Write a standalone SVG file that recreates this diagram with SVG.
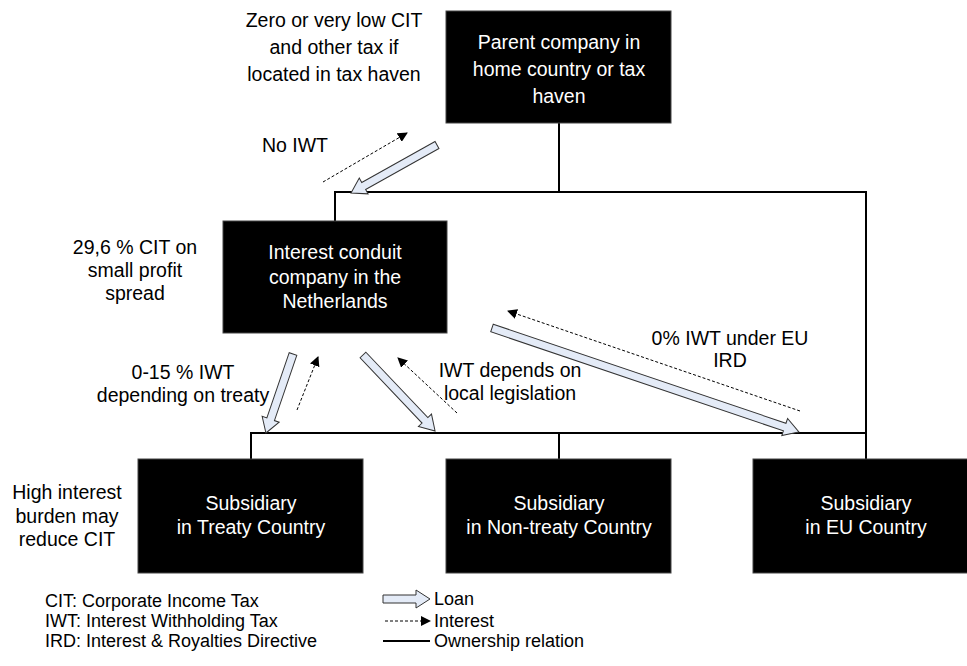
<svg xmlns="http://www.w3.org/2000/svg" width="967" height="666" viewBox="0 0 967 666">
<defs>
<style>
text{font-family:"Liberation Sans",Arial,sans-serif;font-size:19.5px;fill:#000;text-anchor:middle}
.w{fill:#fff}
.box{fill:#000;stroke:#444;stroke-width:1}
.own{fill:none;stroke:#000;stroke-width:2}
.loan{fill:#e4ebf7;stroke:#333;stroke-width:1}
.int{fill:none;stroke:#000;stroke-width:1;stroke-dasharray:3,2}
.leg{font-size:18px;text-anchor:start}
</style>
<marker id="ah" viewBox="0 0 10 10" refX="9" refY="5" markerWidth="10" markerHeight="10" markerUnits="userSpaceOnUse" orient="auto">
<path d="M0,0 L10,5 L0,10 Z" fill="#000"/>
</marker>
</defs>

<g id="connectors">
<path class="own" d="M559,123 V192 M335,221 V192 H866 V459 M251,459 V433 H866 M559,433 V459"/>
<g transform="translate(437,145) rotate(150.8)"><path class="loan" d="M0,-4 H84 V-9 L98.5,0 L84,9 V4 H0 Z"/></g>
<g transform="translate(293,354) rotate(108.9)"><path class="loan" d="M0,-4 H69 V-9 L83.5,0 L69,9 V4 H0 Z"/></g>
<g transform="translate(363,355) rotate(46.5)"><path class="loan" d="M0,-4 H90 V-9 L104.7,0 L90,9 V4 H0 Z"/></g>
<g transform="translate(492,328) rotate(18.7)"><path class="loan" d="M0,-4 H309 V-9 L324,0 L309,9 V4 H0 Z"/></g>
<path class="int" d="M323,182 L407,133" marker-end="url(#ah)"/>
<path class="int" d="M297,410 L318,357" marker-end="url(#ah)"/>
<path class="int" d="M457,413 L398,358" marker-end="url(#ah)"/>
<path class="int" d="M800,411 L508,311" marker-end="url(#ah)"/>
</g>

<g id="parent">
<rect class="box" x="446" y="11" width="225" height="112"/>
<text class="w" x="559" y="49">Parent company in</text>
<text class="w" x="559" y="76">home country or tax</text>
<text class="w" x="559" y="103">haven</text>
</g>
<g id="conduit">
<rect class="box" x="223" y="221" width="224" height="112"/>
<text class="w" x="335" y="259">Interest conduit</text>
<text class="w" x="335" y="284">company in the</text>
<text class="w" x="335" y="308">Netherlands</text>
</g>
<g id="sub-treaty">
<rect class="box" x="138" y="459" width="225" height="114"/>
<text class="w" x="251" y="510">Subsidiary</text>
<text class="w" x="251" y="534">in Treaty Country</text>
</g>
<g id="sub-nontreaty">
<rect class="box" x="446" y="459" width="225" height="114"/>
<text class="w" x="559" y="510">Subsidiary</text>
<text class="w" x="559" y="534">in Non-treaty Country</text>
</g>
<g id="sub-eu">
<rect class="box" x="753" y="459" width="225" height="114"/>
<text class="w" x="866" y="510">Subsidiary</text>
<text class="w" x="866" y="534">in EU Country</text>
</g>

<g id="labels">
<text x="334" y="27">Zero or very low CIT</text>
<text x="334" y="54">and other tax if</text>
<text x="334" y="81">located in tax haven</text>
<text x="295" y="152">No IWT</text>
<text x="135" y="254">29,6 % CIT on</text>
<text x="135" y="277">small profit</text>
<text x="135" y="300">spread</text>
<text x="183" y="379">0-15 % IWT</text>
<text x="183" y="402">depending on treaty</text>
<text x="510" y="377">IWT depends on</text>
<text x="510" y="400">local legislation</text>
<text x="730" y="345">0% IWT under EU</text>
<text x="730" y="367">IRD</text>
<text x="67" y="499">High interest</text>
<text x="67" y="523">burden may</text>
<text x="67" y="546">reduce CIT</text>
</g>

<g id="legend">
<text class="leg" x="45" y="607">CIT: Corporate Income Tax</text>
<text class="leg" x="45" y="627">IWT: Interest Withholding Tax</text>
<text class="leg" x="45" y="647">IRD: Interest &amp; Royalties Directive</text>
<g transform="translate(383,599)"><path class="loan" d="M0,-4 H33 V-9 L47,0 L33,9 V4 H0 Z"/></g>
<path class="int" d="M385,621 H430" marker-end="url(#ah)"/>
<path class="own" d="M383,641 H430"/>
<text class="leg" x="434" y="605">Loan</text>
<text class="leg" x="434" y="627">Interest</text>
<text class="leg" x="434" y="647">Ownership relation</text>
</g>
</svg>
